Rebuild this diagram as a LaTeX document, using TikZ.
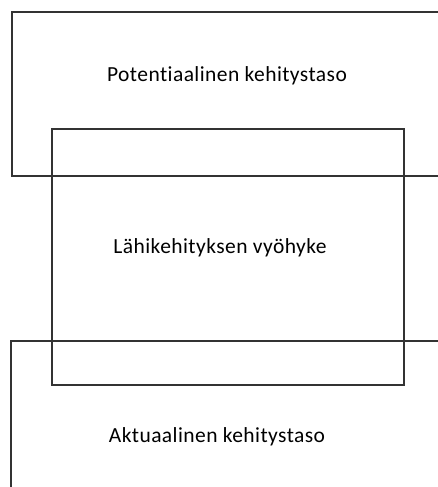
\documentclass[tikz,border=0pt]{standalone}
\usepackage{fontspec}
\setmainfont{Carlito}[Ligatures=NoCommon,LetterSpace=2]
\tikzset{zone/.style={draw=black!80,line width=1.2pt},
	label text/.style={font=\fontsize{21.5}{24}\selectfont,inner sep=0pt},
	level box/.style={zone}}

\begin{document}
\begin{tikzpicture}[x=1pt,y=-1pt]
\useasboundingbox (0,0) rectangle (438,487);
% potential level (top, open to the right)
\draw [level box] (438,12) -- (12,12) -- (12,176) -- (438,176);
% actual level (bottom, open below and right)
\draw [level box] (438,341) -- (11,341) -- (11,487);
% zone in between
\draw [zone] (52,129) rectangle (404,385);
\node [label text] (pot) at (227,76) {Potentiaalinen kehitystaso};
\node [label text] (lahi) at (220,248) {Lähikehityksen vyöhyke};
\node [label text] (akt) at (217,437) {Aktuaalinen kehitystaso};
\end{tikzpicture}
\end{document}
